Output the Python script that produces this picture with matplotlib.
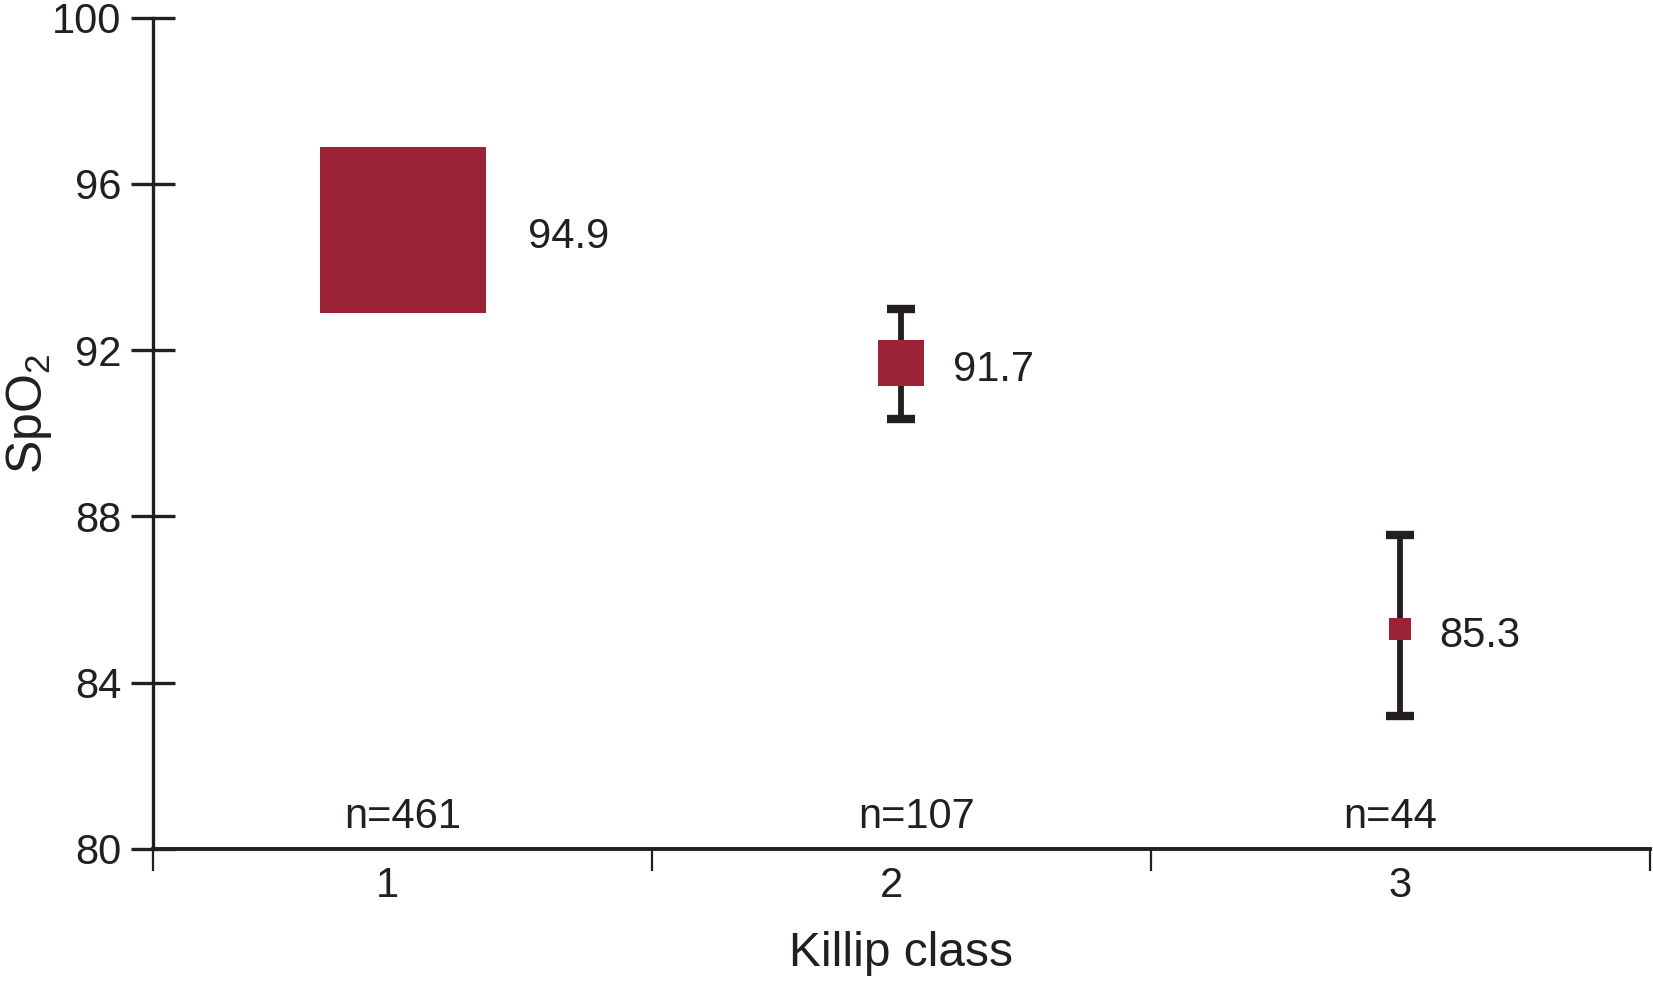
import numpy as np
import matplotlib
matplotlib.use("Agg")
import matplotlib.pyplot as plt

plt.rcParams['font.family'] = ['Liberation Sans', 'DejaVu Sans']

# data
killip = [1, 2, 3]
mean_spo2 = [94.9, 91.7, 85.3]
ci_low = [94.9, 90.35, 83.2]
ci_high = [94.9, 93.0, 87.55]
n_labels = ["n=461", "n=107", "n=44"]
y_ticks = [80, 84, 88, 92, 96, 100]

# styling
red = "#9b2237"
ink = "#231f20"
marker_side = [119, 33, 16.5]     # points
label_offset = [90, 37, 28]       # points, from marker centre

fig = plt.figure(figsize=(16.53, 9.86), dpi=100)
ax = fig.add_axes([0.0926, 0.139, 0.9054, 0.843])

for x, m, lo, hi, s in zip(killip, mean_spo2, ci_low, ci_high, marker_side):
    ax.errorbar(x, m, yerr=[[m - lo], [hi - m]], fmt="none", ecolor=ink,
                elinewidth=4.2, capsize=10, capthick=6, zorder=2)
    ax.plot(x, m, marker="s", markersize=s, color=red, markeredgewidth=0,
            linestyle="none", zorder=3)

for x, m, off in zip(killip, mean_spo2, label_offset):
    ax.annotate(f"{m:.1f}", (x, m), xytext=(off, -5), textcoords="offset points",
                ha="left", va="center", fontsize=30, color=ink)

n_x = [1.0, 2.03, 2.98]
for x, t in zip(n_x, n_labels):
    ax.text(x, 80.78, t, ha="center", va="center", fontsize=30, color=ink)

ax.set_xlim(0.5, 3.5)
ax.set_ylim(80, 100)

for side in ["top", "right"]:
    ax.spines[side].set_visible(False)
ax.spines["left"].set_linewidth(2.4)
ax.spines["bottom"].set_linewidth(2.8)
for side in ["left", "bottom"]:
    ax.spines[side].set_color(ink)

ax.set_yticks(y_ticks)
ax.tick_params(axis="y", direction="inout", length=31.7, width=2.4, pad=7,
               labelsize=30, colors=ink)

ax.set_xticks([0.5, 1.5, 2.5, 3.5])
ax.set_xticklabels([])
ax.set_xticks([0.97, 1.98, 3.0], minor=True)
ax.set_xticklabels([str(k) for k in killip], minor=True)
ax.tick_params(axis="x", which="major", direction="out", length=16, width=1.6,
               color=ink)
ax.tick_params(axis="x", which="minor", length=0, pad=12, labelsize=30,
               labelcolor=ink)

ax.set_xlabel("Killip class", fontsize=34.5, color=ink, labelpad=18)
fig.text(0.0175, 0.58, r"$\mathregular{SpO_2}$", rotation=90, ha="center",
         va="center", fontsize=36, color=ink)

fig.savefig("out.png", dpi=100)
